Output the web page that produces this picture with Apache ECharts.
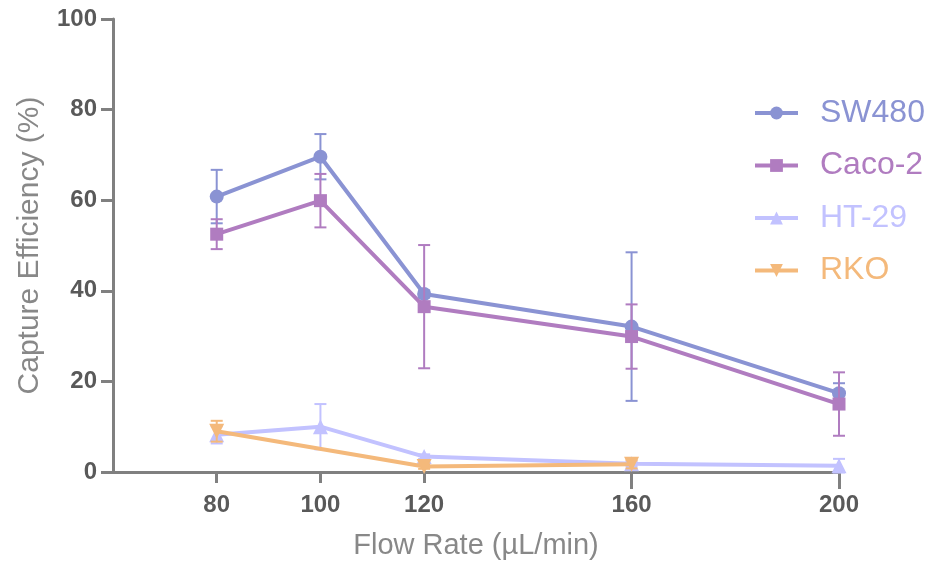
<!DOCTYPE html>
<html>
<head>
<meta charset="utf-8">
<script src="https://cdn.jsdelivr.net/npm/echarts@6/dist/echarts.min.js"></script>
<style>html,body{margin:0;padding:0;background:#fff;}#c{width:933px;height:562px;}</style>
</head>
<body>
<div id="c"></div>
<script>
const flowRates = [80, 100, 120, 160, 200];
const xTickLabels = [80, 100, 120, 160, 200];
const seriesNames = ['SW480', 'Caco-2', 'HT-29', 'RKO'];
const sw480 = [60.8, 69.6, 39.3, 32.1, 17.4];
const sw480Err = [5.9, 5.0, 0.8, 16.4, 2.2];
const caco2 = [52.5, 59.9, 36.5, 29.9, 15.0];
const caco2Err = [3.3, 5.9, 13.6, 7.1, 7.0];
const ht29 = [8.2, 10.0, 3.4, 1.8, 1.4];
const ht29Err = [1.9, 5.0, 0.5, 0.5, 1.5];
const rko = [9.0, null, 1.2, 1.7, null];
const rkoErr = [2.3, null, 0.5, 0.9, null];

const colors = ['#8a93d3', '#b07cc0', '#c2c2ff', '#f4b97b'];
const symbols = ['circle', 'rect', 'triangle', 'triangle'];
const symbolSizes = [14, 13, 15, 15];
const rotates = [0, 0, 0, 180];
const values = [sw480, caco2, ht29, rko];
const errs = [sw480Err, caco2Err, ht29Err, rkoErr];

const FONT = '"Liberation Sans", Arial, Helvetica, sans-serif';

function errRender(color) {
  return function (params, api) {
    const x = api.value(0), y = api.value(1), e = api.value(2);
    if (!(e > 0)) return null;
    const top = api.coord([x, y + e]);
    const bot = api.coord([x, y - e]);
    const hw = 6;
    const style = { stroke: color, lineWidth: 2 };
    return {
      type: 'group',
      children: [
        { type: 'line', shape: { x1: top[0], y1: top[1], x2: bot[0], y2: bot[1] }, style: style },
        { type: 'line', shape: { x1: top[0] - hw, y1: top[1], x2: top[0] + hw, y2: top[1] }, style: style },
        { type: 'line', shape: { x1: bot[0] - hw, y1: bot[1], x2: bot[0] + hw, y2: bot[1] }, style: style }
      ]
    };
  };
}

const series = [];
seriesNames.forEach(function (name, i) {
  series.push({
    type: 'custom',
    name: name + '_err',
    xAxisIndex: 0,
    renderItem: errRender(colors[i]),
    data: flowRates.map(function (x, k) { return values[i][k] == null ? [x, 0, 0] : [x, values[i][k], errs[i][k]]; }),
    z: 2 + i * 2,
    silent: true
  });
  series.push({
    type: 'line',
    name: name,
    xAxisIndex: 0,
    data: flowRates.map(function (x, k) { return [x, values[i][k]]; }),
    connectNulls: true,
    symbol: symbols[i],
    symbolSize: symbolSizes[i],
    symbolRotate: rotates[i],
    showAllSymbol: true,
    lineStyle: { color: colors[i], width: 4 },
    itemStyle: { color: colors[i] },
    z: 3 + i * 2,
    animation: false
  });
});

const chart = echarts.init(document.getElementById('c'));
chart.setOption({
  animation: false,
  grid: { left: 113, right: 94, top: 19, bottom: 90, containLabel: false, outerBoundsMode: 'none' },
  legend: {
    orient: 'vertical',
    left: 753,
    top: 97,
    padding: 0,
    itemWidth: 43,
    itemHeight: 16,
    itemGap: 20.5,
    lineStyle: { width: 4 },
    data: seriesNames.map(function (n, i) {
      return { name: n, textStyle: { color: colors[i] } };
    }),
    textStyle: { fontFamily: FONT, fontSize: 32, padding: [0, 0, 0, 17] }
  },
  xAxis: [{
    type: 'value',
    min: 60,
    max: 200,
    position: 'bottom',
    splitLine: { show: false },
    axisLine: { show: true, lineStyle: { color: '#808080', width: 3 } },
    axisTick: { show: true, length: 11, customValues: [80, 100, 120], lineStyle: { color: '#808080', width: 3 } },
    axisLabel: { customValues: xTickLabels, margin: 21, color: '#595959', fontSize: 24, fontWeight: 'bold', fontFamily: FONT },
    name: 'Flow Rate (\u00b5L/min)',
    nameLocation: 'middle',
    nameGap: 59,
    nameTextStyle: { color: '#888888', fontSize: 29, fontFamily: FONT }
  }, {
    type: 'value',
    min: 60,
    max: 200,
    position: 'bottom',
    offset: 0,
    splitLine: { show: false },
    axisLine: { show: false },
    axisTick: { show: true, length: 17, customValues: [160, 200], lineStyle: { color: '#808080', width: 3 } },
    axisLabel: { show: false }
  }],
  yAxis: {
    type: 'value',
    min: 0,
    max: 100,
    interval: 20,
    splitLine: { show: false },
    axisLine: { show: true, lineStyle: { color: '#808080', width: 3 } },
    axisTick: { show: true, length: 12, lineStyle: { color: '#808080', width: 3 } },
    axisLabel: { margin: 16, color: '#595959', fontSize: 24, fontWeight: 'bold', fontFamily: FONT },
    name: 'Capture Efficiency (%)',
    nameLocation: 'middle',
    nameGap: 68,
    nameTextStyle: { color: '#888888', fontSize: 30, fontFamily: FONT }
  },
  series: series
});
</script>
</body>
</html>
